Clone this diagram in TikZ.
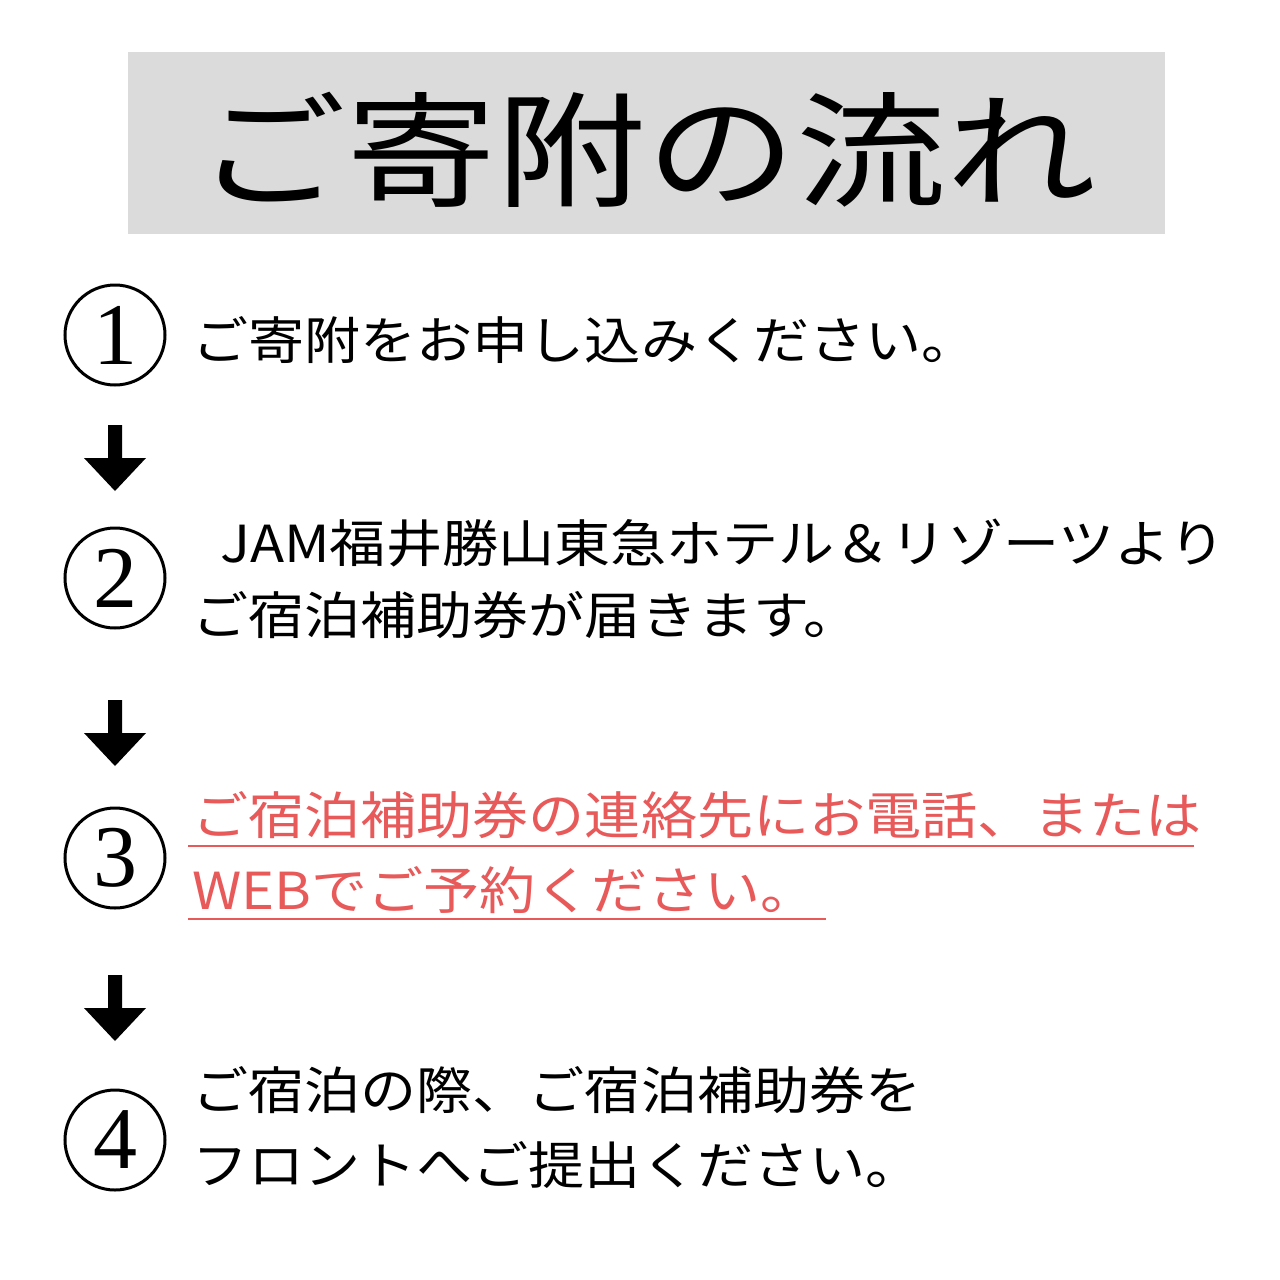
\documentclass[tikz,border=0pt]{standalone}
\usepackage{fontspec}
\newfontfamily\jp{Noto Sans CJK JP}
\setmainfont{Liberation Serif}
\definecolor{redt}{HTML}{E8595A}
\begin{document}
\begin{tikzpicture}[x=1pt,y=-1pt,
 txt/.style={anchor=west,inner sep=0pt,xscale=1.1,font=\jp\fontsize{51}{53}\selectfont},
 num/.style={circle,draw,line width=3pt,minimum size=100pt,inner sep=0pt,font=\fontsize{88}{88}\selectfont}]
\useasboundingbox (0,0) rectangle (1280,1280);
\fill[white] (0,0) rectangle (1280,1280);
\fill[gray!28] (128,52) rectangle (1165,234);
\node[inner sep=0pt,xscale=1.2,font=\jp\fontsize{125}{127}\selectfont] (title) at (646,150) {ご寄附の流れ};
\node[num] (n1) at (115,335) {1};
\node[num] (n2) at (115,578) {2};
\node[num] (n3) at (115,858) {3};
\node[num] (n4) at (115,1140) {4};
\foreach \y in {425,700,975}{
 \fill (108,\y) -- (122,\y) -- (122,\y+33) -- (146,\y+33) -- (115,\y+66) -- (84,\y+33) -- (108,\y+33) -- cycle;}
\node[txt] (t1) at (192,340) {ご寄附をお申し込みください。};
\node[txt] (t2a) at (192,543) {\hspace{0.5em}JAM福井勝山東急ホテル＆リゾーツより};
\node[txt] (t2b) at (192,615) {ご宿泊補助券が届きます。};
\node[txt,text=redt] (t3a) at (192,815) {ご宿泊補助券の連絡先にお電話、または};
\node[txt,text=redt] (t3b) at (192,890) {WEBでご予約ください。};
\draw[redt,line width=2.5pt] (188,846) -- (1194,846);
\draw[redt,line width=2.5pt] (188,919) -- (826,919);
\node[txt] (t4a) at (192,1090) {ご宿泊の際、ご宿泊補助券を};
\node[txt] (t4b) at (192,1165) {フロントへご提出ください。};
\end{tikzpicture}
\end{document}
